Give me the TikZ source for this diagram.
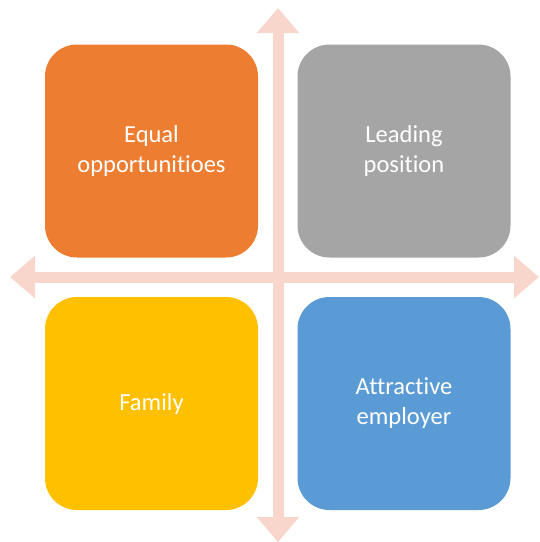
\documentclass[tikz,border=0pt]{standalone}
\usepackage{fontspec}
\setmainfont{Carlito}[Ligatures={NoCommon,NoRare}]
\usetikzlibrary{arrows.meta}

\definecolor{quadorange}{HTML}{ED7D31}
\definecolor{quadgray}{HTML}{A5A5A5}
\definecolor{quadyellow}{HTML}{FFC000}
\definecolor{quadblue}{HTML}{5B9BD5}
\definecolor{axispink}{HTML}{F8D6CC}

\begin{document}
\begin{tikzpicture}[x=1pt, y=-1pt,
        quad/.style = {rounded corners=32pt, minimum width=213pt, minimum height=213pt, inner sep=0pt,
                       text=white, align=center, font=\fontsize{24.5}{30}\selectfont},
        axis/.style = {draw=axispink, line width=11pt, {Triangle[width=41pt,length=25pt]}-{Triangle[width=41pt,length=25pt]}},]
        \useasboundingbox (0,0) rectangle (540,542);

        % axes
        \coordinate (top) at (278,8);
        \coordinate (bottom) at (278,542);
        \coordinate (left) at (10,277);
        \coordinate (right) at (539,277);
        \draw[axis] (top) -- (bottom);
        \draw[axis] (left) -- (right);

        % quadrants
        \node[quad, fill=quadorange] (equal) at (151.5,151) {Equal\\opportunitioes};
        \node[quad, fill=quadgray] (leading) at (404,151) {Leading\\position};
        \node[quad, fill=quadyellow] (family) at (151.5,403.5) {Family};
        \node[quad, fill=quadblue] (employer) at (404,403.5) {Attractive\\employer};

\end{tikzpicture}
\end{document}
